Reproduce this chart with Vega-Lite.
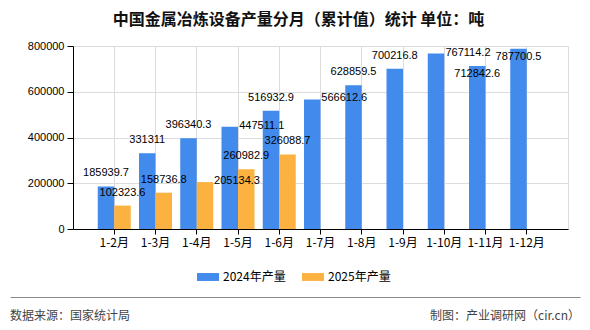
{
  "$schema": "https://vega.github.io/schema/vega-lite/v6.json",
  "width": 495,
  "height": 183,
  "autosize": {"type": "none"},
  "padding": {"left": 73, "top": 46, "right": 22, "bottom": 101},
  "background": "#ffffff",
  "title": {
    "text": "中国金属冶炼设备产量分月（累计值）统计 单位：吨",
    "anchor": "middle",
    "frame": "group",
    "dx": -22,
    "offset": 12,
    "font": "Noto Sans CJK SC",
    "fontSize": 16,
    "fontWeight": "bold",
    "color": "#111111"
  },
  "config": {
    "view": {"stroke": "#dcdcdc"},
    "axis": {"labelFont": "Liberation Sans", "titleFont": "Noto Sans CJK SC"}
  },
  "datasets": {
    "main": [
      {"month": "1-2月", "series": "2024年产量", "value": 185939.7},
      {"month": "1-3月", "series": "2024年产量", "value": 331311},
      {"month": "1-4月", "series": "2024年产量", "value": 396340.3},
      {"month": "1-5月", "series": "2024年产量", "value": 447511.1},
      {"month": "1-6月", "series": "2024年产量", "value": 516932.9},
      {"month": "1-7月", "series": "2024年产量", "value": 566612.6},
      {"month": "1-8月", "series": "2024年产量", "value": 628859.5},
      {"month": "1-9月", "series": "2024年产量", "value": 700216.8},
      {"month": "1-10月", "series": "2024年产量", "value": 767114.2},
      {"month": "1-11月", "series": "2024年产量", "value": 712842.6},
      {"month": "1-12月", "series": "2024年产量", "value": 787700.5},
      {"month": "1-2月", "series": "2025年产量", "value": 102323.6},
      {"month": "1-3月", "series": "2025年产量", "value": 158736.8},
      {"month": "1-4月", "series": "2025年产量", "value": 205134.3},
      {"month": "1-5月", "series": "2025年产量", "value": 260982.9},
      {"month": "1-6月", "series": "2025年产量", "value": 326088.7}
    ],
    "footer": [
      {"side": "left", "text": "数据来源：国家统计局"},
      {"side": "right", "text": "制图：产业调研网（cir.cn）"}
    ]
  },
  "layer": [
    {
      "data": {"name": "main"},
      "encoding": {
        "x": {
          "field": "month",
          "type": "nominal",
          "sort": null,
          "scale": {"paddingInner": 0, "paddingOuter": 0.5},
          "axis": {
            "title": null,
            "labelAngle": 0,
            "labelFont": "Noto Sans CJK SC",
            "labelFontSize": 12,
            "labelColor": "#000000",
            "labelPadding": 3,
            "tickColor": "#000000",
            "tickSize": 5,
            "domainColor": "#000000",
            "grid": true,
            "gridColor": "#dcdcdc",
            "bandPosition": 0.5
          }
        },
        "xOffset": {
          "field": "series",
          "type": "nominal",
          "scale": {"domain": ["2024年产量", "2025年产量"], "paddingInner": 0, "paddingOuter": 0.25}
        },
        "y": {
          "field": "value",
          "type": "quantitative",
          "scale": {"domain": [0, 800000], "nice": false},
          "axis": {
            "title": null,
            "values": [0, 200000, 400000, 600000, 800000],
            "format": "d",
            "labelFontSize": 11,
            "labelColor": "#000000",
            "labelPadding": 3,
            "tickColor": "#000000",
            "tickSize": 6,
            "domainColor": "#000000",
            "gridColor": "#dcdcdc"
          }
        }
      },
      "layer": [
        {
          "mark": {"type": "bar"},
          "encoding": {
            "color": {
              "field": "series",
              "type": "nominal",
              "scale": {"domain": ["2024年产量", "2025年产量"], "range": ["#428aec", "#fbb241"]},
              "legend": {
                "title": null,
                "orient": "none",
                "direction": "horizontal",
                "legendX": 124,
                "legendY": 220,
                "padding": 0,
                "symbolType": "M-1,-0.36H1V0.36H-1Z",
                "symbolSize": 484,
                "symbolStrokeWidth": 0,
                "labelFont": "Noto Sans CJK SC",
                "labelFontSize": 12,
                "labelColor": "#000000",
                "labelOffset": 4,
                "columnPadding": 16
              }
            }
          }
        },
        {
          "transform": [{"filter": "!((datum.series == '2024年产量' && (datum.month == '1-5月' || datum.month == '1-7月' || datum.month == '1-10月' || datum.month == '1-11月' || datum.month == '1-12月')) || (datum.series == '2025年产量' && datum.month == '1-4月'))"}],
          "mark": {"type": "text", "baseline": "middle", "dy": -13, "font": "Liberation Sans", "fontSize": 11, "color": "#000000"},
          "encoding": {"text": {"field": "value", "type": "quantitative"}}
        },
        {
          "transform": [{"filter": "(datum.series == '2024年产量' && (datum.month == '1-5月' || datum.month == '1-7月' || datum.month == '1-10月')) || (datum.series == '2025年产量' && datum.month == '1-4月')"}],
          "mark": {"type": "text", "baseline": "middle", "dy": -1, "dx": 32, "font": "Liberation Sans", "fontSize": 11, "color": "#000000"},
          "encoding": {"text": {"field": "value", "type": "quantitative"}}
        },
        {
          "transform": [{"filter": "datum.series == '2024年产量' && (datum.month == '1-11月' || datum.month == '1-12月')"}],
          "mark": {"type": "text", "baseline": "middle", "dy": 8, "font": "Liberation Sans", "fontSize": 11, "color": "#000000"},
          "encoding": {"text": {"field": "value", "type": "quantitative"}}
        }
      ]
    },
    {
      "data": {"name": "footer"},
      "encoding": {
        "x": {
          "field": "side",
          "type": "nominal",
          "scale": {"type": "point", "domain": ["left", "right"], "range": [-63, 507], "padding": 0},
          "axis": {
            "orient": "bottom",
            "offset": 68,
            "title": null,
            "labels": false,
            "ticks": false,
            "grid": false,
            "domainColor": "#888888",
            "domainWidth": 1
          }
        }
      },
      "layer": [
        {
          "transform": [{"filter": "datum.side == 'left'"}],
          "mark": {"type": "text", "align": "left", "baseline": "middle", "dy": 178.5, "font": "Noto Sans CJK SC", "fontSize": 12, "color": "#444444"},
          "encoding": {"text": {"field": "text", "type": "nominal"}}
        },
        {
          "transform": [{"filter": "datum.side == 'right'"}],
          "mark": {"type": "text", "align": "right", "baseline": "middle", "dy": 178.5, "font": "Noto Sans CJK SC", "fontSize": 12, "color": "#444444"},
          "encoding": {"text": {"field": "text", "type": "nominal"}}
        }
      ]
    }
  ],
  "resolve": {"scale": {"x": "independent"}, "axis": {"x": "independent"}}
}
